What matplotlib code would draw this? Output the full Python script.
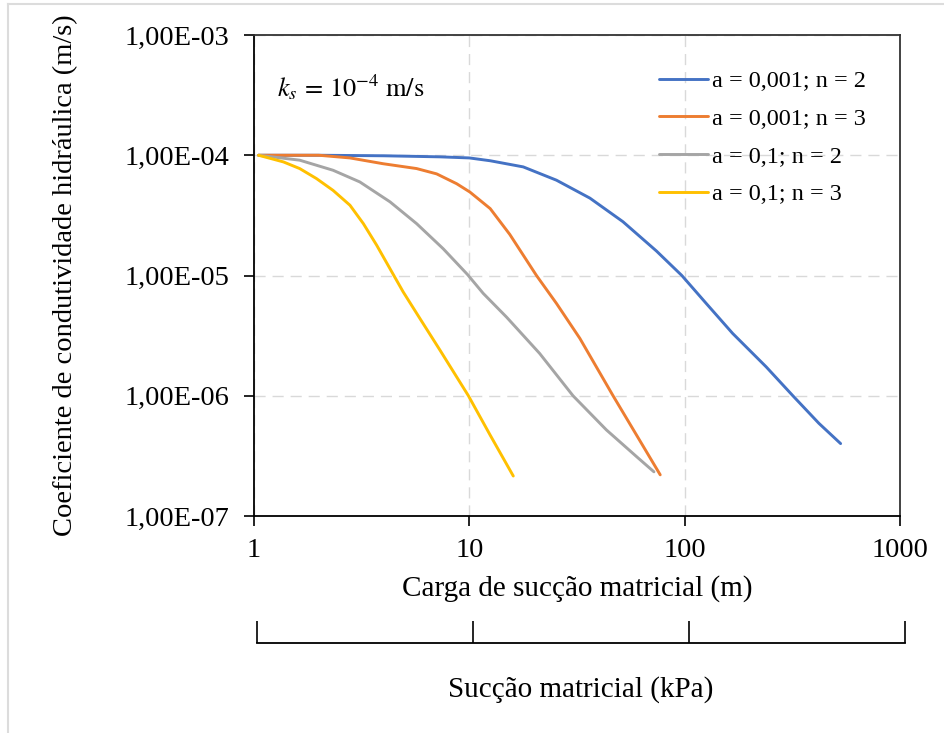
import matplotlib
matplotlib.use("Agg")
import matplotlib.pyplot as plt
from matplotlib.lines import Line2D
from matplotlib.ticker import FixedLocator, FuncFormatter, NullLocator

plt.rcParams['font.family'] = ['Liberation Serif', 'DejaVu Serif']
plt.rcParams['mathtext.fontset'] = 'stix'

# curvas de condutividade hidráulica (carga em m, k em m/s)
x_a001_n2 = [1.05, 2, 4, 7.3, 10, 12.5, 17.8, 25.4, 36.3, 51.7, 73.9, 97, 126, 167, 239, 318, 420, 530]
k_a001_n2 = [1e-4, 1e-4, 9.9e-5, 9.7e-5, 9.5e-5, 9.0e-5, 8.0e-5, 6.2e-5, 4.4e-5, 2.8e-5,
             1.6e-5, 1.0e-5, 5.85e-6, 3.3e-6, 1.74e-6, 1.0e-6, 5.9e-7, 4.0e-7]

x_a001_n3 = [1.05, 2.0, 2.79, 3.98, 5.69, 7.05, 8.73, 10.05, 12.5, 15.4, 20.5, 25.4, 32.6, 46.5, 61.8, 77]
k_a001_n3 = [1e-4, 1e-4, 9.5e-5, 8.5e-5, 7.75e-5, 7.0e-5, 5.8e-5, 4.95e-5, 3.6e-5, 2.2e-5,
             1.0e-5, 5.85e-6, 3.0e-6, 1.0e-6, 4.26e-7, 2.2e-7]

x_a01_n2 = [1.05, 1.63, 2.33, 3.1, 4.28, 5.69, 7.56, 9.8, 11.6, 14.9, 21.2, 30.3, 43.3, 60, 72]
k_a01_n2 = [1e-4, 9.1e-5, 7.5e-5, 6.0e-5, 4.1e-5, 2.7e-5, 1.67e-5, 1.02e-5, 7.1e-6, 4.5e-6,
            2.25e-6, 1.0e-6, 5.2e-7, 3.1e-7, 2.33e-7]

x_a01_n3 = [1.05, 1.37, 1.63, 1.95, 2.33, 2.79, 3.22, 3.71, 4.28, 4.93, 5.89, 7.3, 9.9, 12.5, 16]
k_a01_n3 = [1e-4, 8.8e-5, 7.75e-5, 6.4e-5, 5.1e-5, 3.84e-5, 2.7e-5, 1.79e-5, 1.14e-5, 7.3e-6,
            4.4e-6, 2.4e-6, 1.0e-6, 4.7e-7, 2.15e-7]

labels = ["a = 0,001; n = 2", "a = 0,001; n = 3", "a = 0,1; n = 2", "a = 0,1; n = 3"]
colors = ["#4472C4", "#ED7D31", "#A5A5A5", "#FFC000"]

x_ticks = [1, 10, 100, 1000]
y_ticks = [1e-7, 1e-6, 1e-5, 1e-4, 1e-3]

fig = plt.figure(figsize=(9.44, 7.33), dpi=100)
W, H = 944, 733

# moldura cinza clara
fig.add_artist(Line2D([8 / W, 8 / W], [0, 1 - 4 / H], color="#dcdcdc", lw=1.5))
fig.add_artist(Line2D([8 / W, 1], [1 - 4 / H, 1 - 4 / H], color="#dcdcdc", lw=1.5))

ax = fig.add_axes([254 / W, 1 - 516 / H, 646 / W, 481 / H])
ax.set_xscale("log")
ax.set_yscale("log")

series = [(x_a001_n2, k_a001_n2), (x_a001_n3, k_a001_n3), (x_a01_n2, k_a01_n2), (x_a01_n3, k_a01_n3)]
for (xs, ks), lab, c in zip(series, labels, colors):
    ax.plot(xs, ks, color=c, lw=2.1, label=lab, solid_capstyle="round", solid_joinstyle="round")

ax.set_xlim(1, 1000)
ax.set_ylim(1e-7, 1e-3)
ax.xaxis.set_major_locator(FixedLocator(x_ticks))
ax.yaxis.set_major_locator(FixedLocator(y_ticks))
ax.xaxis.set_minor_locator(NullLocator())
ax.yaxis.set_minor_locator(NullLocator())
ax.xaxis.set_major_formatter(FuncFormatter(lambda v, p: f"{v:g}"))
ax.yaxis.set_major_formatter(FuncFormatter(lambda v, p: f"{v:.2E}".replace(".", ",")))
ax.tick_params(axis="both", which="major", labelsize=20.5, length=7, width=1.2, colors="black")
ax.tick_params(axis="y", pad=11)
ax.tick_params(axis="x", pad=9)

for s in ax.spines.values():
    s.set_linewidth(1.3)
    s.set_color("black")
ax.spines["top"].set_color("#333333")
ax.spines["right"].set_color("#333333")

ax.grid(True, which="major", color="#d9d9d9", lw=1, linestyle=(0, (8, 5)))

ax.set_xlabel("Carga de sucção matricial (m)", fontsize=21)
ax.xaxis.set_label_coords(0.5, -0.123)
ax.set_ylabel("Coeficiente de condutividade hidráulica (m/s)", fontsize=20.5)
ax.yaxis.set_label_coords(-0.272, 0.5)

ax.text(0.036, 0.892, r"$k_s\,=\,10^{-4}\ \mathrm{m/s}$", transform=ax.transAxes,
        fontsize=19, va="center", ha="left")

ax.legend(loc="upper left", bbox_to_anchor=(659 / W, 1 - 70 / H), bbox_transform=fig.transFigure,
          frameon=False, fontsize=17.5, handlelength=2.0, handletextpad=0.2,
          labelspacing=0.65, borderpad=0, borderaxespad=0)

# escala secundária em kPa
ax2 = fig.add_axes([257 / W, 1 - 643 / H, 648 / W, 0.0001])
ax2.set_xscale("log")
ax2.set_xlim(1, 1000)
ax2.xaxis.set_major_locator(FixedLocator(x_ticks))
ax2.xaxis.set_minor_locator(NullLocator())
ax2.yaxis.set_major_locator(NullLocator())
ax2.tick_params(axis="x", direction="in", length=16, width=1.2, labelbottom=False)
for side in ["top", "left", "right"]:
    ax2.spines[side].set_visible(False)
ax2.spines["bottom"].set_linewidth(1.3)
ax2.patch.set_visible(False)
ax2.set_xlabel("Sucção matricial (kPa)", fontsize=21, labelpad=24)

fig.savefig("out.png", dpi=100)
